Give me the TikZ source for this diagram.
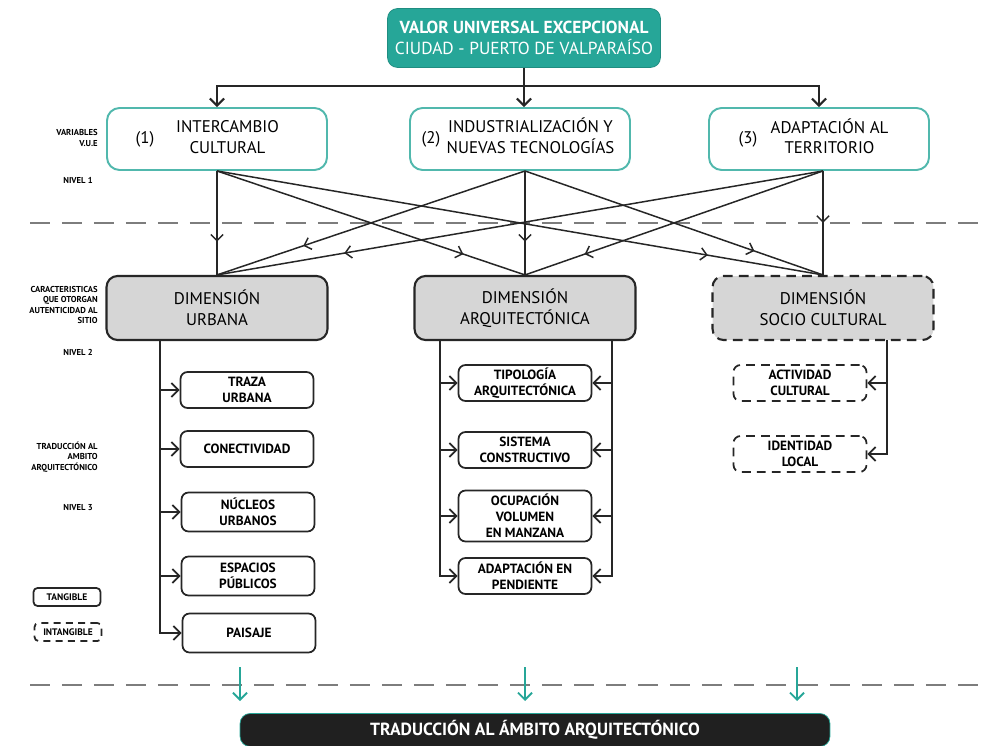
\documentclass[tikz,border=0pt]{standalone}
\usepackage{fontspec}
\setmainfont{PT Sans}
\usetikzlibrary{arrows.meta,decorations.markings}

\definecolor{verde}{RGB}{38,166,152}
\definecolor{gris}{RGB}{214,214,214}
\definecolor{tinta}{RGB}{38,38,38}
\definecolor{raya}{RGB}{125,125,125}

\newcommand\dos[2]{\hspace*{0.42cm}\begin{tabular}{@{}c@{}}#1\\#2\end{tabular}}

\begin{document}
\begin{tikzpicture}[x=0.02cm,y=-0.02cm,>={Straight Barb[length=4pt,width=8pt]},
    titulo/.style={fill=verde,draw=verde!85!black,rounded corners=0.2cm,text=white,align=center,
      minimum width=5.46cm,minimum height=1.18cm,font=\fontsize{9.9}{11.5}\selectfont},
    var/.style={draw=verde!80,line width=1.1pt,fill=white,rounded corners=0.25cm,inner xsep=0pt,
      minimum width=4.4cm,minimum height=1.24cm,font=\fontsize{9.6}{11.5}\selectfont},
    num/.style={font=\fontsize{9.6}{11.5}\selectfont,inner sep=1pt},
    dim/.style={draw=tinta,fill=gris,line width=1.2pt,rounded corners=0.22cm,align=center,
      minimum width=4.42cm,minimum height=1.28cm,font=\fontsize{9.6}{12}\selectfont},
    dimd/.style={dim,dash pattern=on 5.5pt off 3.5pt},
    hoja/.style={draw=tinta,line width=1pt,rounded corners=0.14cm,align=center,
      minimum width=2.66cm,minimum height=0.72cm,inner sep=1pt,font=\fontsize{7.6}{9}\selectfont\bfseries},
    hojad/.style={hoja,dash pattern=on 5pt off 3.5pt},
    leyenda/.style={hoja,minimum width=1.34cm,minimum height=0.36cm,rounded corners=0.08cm,
      font=\fontsize{5.4}{6}\selectfont\bfseries},
    nota/.style={anchor=east,align=right,inner sep=0pt,font=\fontsize{4.9}{6}\selectfont\bfseries},
    flecha/.style={draw=tinta,line width=1pt},
    cruce/.style={draw=tinta,line width=0.85pt,postaction={decorate},
      decoration={markings,mark=at position #1 with {\arrow{Straight Barb[length=3.5pt,width=7pt]}}}},
    sep/.style={draw=raya,line width=1.6pt,dash pattern=on 0.4cm off 0.24cm},
    bajada/.style={draw=verde,line width=1.1pt,-{Straight Barb[length=4pt,width=8pt]}},
    barra/.style={fill=tinta!85!black,draw=verde,text=white,rounded corners=0.2cm,
      minimum width=11.8cm,minimum height=0.66cm,font=\fontsize{10}{11}\selectfont\bfseries}]
  \useasboundingbox (0,0) rectangle (990,746);
  % titre
  \node[titulo] (t) at (524,38) {\textbf{VALOR UNIVERSAL EXCEPCIONAL}\\CIUDAD - PUERTO DE VALPARAÍSO};
  % niveau 1
  \node[var] (b1) at (217,139) {\dos{INTERCAMBIO}{CULTURAL}};
  \node[var] (b2) at (520,139) {\dos{INDUSTRIALIZACIÓN Y}{NUEVAS TECNOLOGÍAS}};
  \node[var] (b3) at (819,139) {\dos{ADAPTACIÓN AL}{TERRITORIO}};
  \node[num] (n1) at (145,139) {(1)};
  \node[num] (n2) at (431,139) {(2)};
  \node[num] (n3) at (748,139) {(3)};
  \coordinate (j) at (t.south |- 0,86);
  \draw[flecha,line width=1.2pt] (t.south) -- (j);
  \draw[flecha,line width=1.2pt,->] (j) -- (j |- b2.north);
  \draw[flecha,line width=1.2pt,->] (j) -| (b1.north);
  \draw[flecha,line width=1.2pt,->] (j) -| (b3.north);
  % niveau 2
  \node[dim] (d1) at (217,308) {DIMENSIÓN\\URBANA};
  \node[dim] (d2) at (525,308) {DIMENSIÓN\\ARQUITECTÓNICA};
  \node[dimd,fill=gris] (d3) at (823,308) {DIMENSIÓN\\SOCIO CULTURAL};
  \coordinate (p1) at (d1.north |- b1.south);
  \coordinate (p2) at (d2.north |- b2.south);
  \coordinate (p3) at (d3.north |- b3.south);
  % séparations
  \draw[sep] (30,223) -- (985,223);
  \draw[sep] (30,685) -- (985,685);
  % liens croisés
  \foreach \i/\j/\p in {1/1/0.68,2/2/0.68,3/3/0.5,1/2/0.8,1/3/0.81,2/1/0.72,2/3/0.77,3/1/0.79,3/2/0.8}
    \draw[cruce=\p] (p\i) -- (d\j.north);
  % niveau 3 urbain
  \node[hoja] (u1) at (247,390) {TRAZA\\URBANA};
  \node[hoja] (u2) at (247,449) {CONECTIVIDAD};
  \node[hoja,minimum height=0.78cm] (u3) at (248,512) {NÚCLEOS\\URBANOS};
  \node[hoja,minimum height=0.78cm] (u4) at (248,576) {ESPACIOS\\PÚBLICOS};
  \node[hoja,minimum height=0.78cm] (u5) at (249,633) {PAISAJE};
  \coordinate (ua) at (160,340);
  \draw[flecha,->] (ua) |- (u5.west);
  \foreach \n in {1,...,4}
    \draw[flecha,->] (ua |- u\n.west) -- (u\n.west);
  % niveau 3 architecture
  \node[hoja] (a1) at (525,383) {TIPOLOGÍA\\ARQUITECTÓNICA};
  \node[hoja] (a2) at (525,450) {SISTEMA\\CONSTRUCTIVO};
  \node[hoja,minimum height=1.02cm] (a3) at (525,516) {OCUPACIÓN\\VOLUMEN\\EN MANZANA};
  \node[hoja] (a4) at (525,576) {ADAPTACIÓN EN\\PENDIENTE};
  \coordinate (al) at (440,340);
  \coordinate (ar) at (612,340);
  \draw[flecha,->] (al) |- (a4.west);
  \draw[flecha,->] (ar) |- (a4.east);
  \foreach \n in {1,2,3} {
    \draw[flecha,->] (al |- a\n.west) -- (a\n.west);
    \draw[flecha,->] (ar |- a\n.east) -- (a\n.east);
  }
  % niveau 3 socio-culturel
  \node[hojad] (s1) at (800,383) {ACTIVIDAD\\CULTURAL};
  \node[hojad] (s2) at (800,454) {IDENTIDAD\\LOCAL};
  \coordinate (sa) at (887,340);
  \draw[flecha,->] (sa) |- (s2.east);
  \draw[flecha,->] (sa |- s1.east) -- (s1.east);
  % étiquettes à gauche
  \node[nota] (l1) at (98,138) {VARIABLES\\V.U.E};
  \node[nota] (l2) at (93,180) {NIVEL 1};
  \node[nota] (l3) at (98,305) {CARACTERISTICAS\\QUE OTORGAN\\AUTENTICIDAD AL\\SITIO};
  \node[nota] (l4) at (93,352) {NIVEL 2};
  \node[nota] (l5) at (98,457) {TRADUCCIÓN AL\\AMBITO\\ARQUITECTÓNICO};
  \node[nota] (l6) at (93,508) {NIVEL 3};
  % légende
  \node[leyenda] (g1) at (67,597) {TANGIBLE};
  \node[leyenda,dash pattern=on 4pt off 3pt] (g2) at (68,632) {INTANGIBLE};
  % traduction
  \node[barra] (f) at (535,730) {TRADUCCIÓN AL ÁMBITO ARQUITECTÓNICO};
  \coordinate (v1) at (240,667);
  \coordinate (v2) at (525,667);
  \coordinate (v3) at (797,667);
  \foreach \v in {v1,v2,v3}
    \draw[bajada] (\v) -- ++(0,34);
\end{tikzpicture}
\end{document}
